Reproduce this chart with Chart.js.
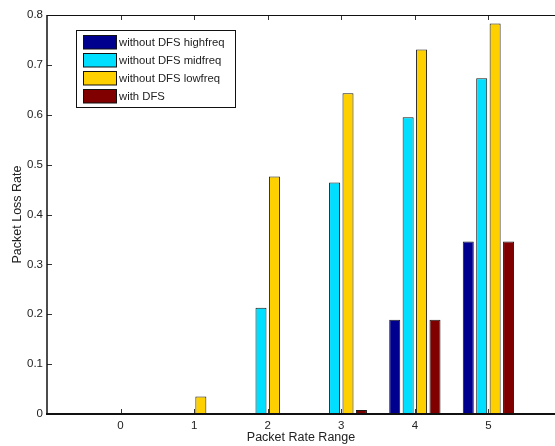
<!DOCTYPE html>
<html>
<head>
<meta charset="utf-8">
<script src="https://cdn.jsdelivr.net/npm/chart.js@4/dist/chart.umd.min.js"></script>
<style>
html,body{margin:0;padding:0;background:#fff;overflow:hidden;}
#wrap{width:555px;height:446px;position:relative;}
</style>
</head>
<body>
<div id="wrap"><canvas id="c" width="555" height="446"></canvas></div>
<script>
// ---- data ----
const categories = [0, 1, 2, 3, 4, 5];
const seriesNames = ['without DFS highfreq', 'without DFS midfreq', 'without DFS lowfreq', 'with DFS'];
const highfreq = [0, 0, 0, 0, 0.189, 0.346];
const midfreq  = [0, 0, 0.213, 0.464, 0.595, 0.673];
const lowfreq  = [0, 0.035, 0.476, 0.643, 0.731, 0.783];
const withDFS  = [0, 0, 0, 0.008, 0.189, 0.346];
const yTicks = [0, 0.1, 0.2, 0.3, 0.4, 0.5, 0.6, 0.7, 0.8];
const xTitle = 'Packet Rate Range';
const yTitle = 'Packet Loss Rate';

const colors = ['#00008f', '#00dfff', '#ffd000', '#800000'];
const seriesValues = [highfreq, midfreq, lowfreq, withDFS];

const FONT = 'Liberation Sans, Arial, Helvetica, sans-serif';
const TXT = '#222';

const datasets = seriesValues.map((vals, i) => ({
  label: seriesNames[i],
  data: categories.map((c, j) => ({x: c, y: vals[j]})),
  backgroundColor: colors[i],
  borderColor: '#1a1a1a',
  borderWidth: 1,
  borderSkipped: 'start',
  categoryPercentage: 0.73,
  barPercentage: 0.82
}));

const framePlugin = {
  id: 'frame',
  afterDatasetsDraw(chart) {
    const {ctx, chartArea: a, scales: {x, y}} = chart;
    ctx.save();
    ctx.strokeStyle = '#333';
    ctx.lineWidth = 1;
    // inward tick marks
    categories.forEach(c => {
      const px = Math.round(x.getPixelForValue(c)) + 0.5;
      ctx.beginPath();
      ctx.moveTo(px, a.top); ctx.lineTo(px, a.top + 5);
      ctx.moveTo(px, a.bottom); ctx.lineTo(px, a.bottom - 5);
      ctx.stroke();
    });
    yTicks.forEach(v => {
      const py = Math.round(y.getPixelForValue(v)) + 0.5;
      ctx.beginPath();
      ctx.moveTo(a.left, py); ctx.lineTo(a.left + 5, py);
      ctx.stroke();
    });
    // frame lines
    ctx.strokeStyle = '#111';
    ctx.lineWidth = 1;
    ctx.beginPath();
    ctx.moveTo(a.left, a.top + 0.5); ctx.lineTo(a.right, a.top + 0.5);
    ctx.stroke();
    ctx.lineWidth = 1.5;
    ctx.beginPath();
    ctx.moveTo(a.left, a.top); ctx.lineTo(a.left, a.bottom);
    ctx.stroke();
    ctx.lineWidth = 2;
    ctx.beginPath();
    ctx.moveTo(a.left - 1, a.bottom); ctx.lineTo(a.right, a.bottom);
    ctx.stroke();

    // legend box
    const bx = 76.5, by = 30.5, bw = 159, bh = 77;
    ctx.fillStyle = '#fff';
    ctx.fillRect(bx, by, bw, bh);
    ctx.strokeStyle = '#111';
    ctx.lineWidth = 1;
    ctx.strokeRect(bx, by, bw, bh);
    ctx.font = '11.3px ' + FONT;
    ctx.textBaseline = 'middle';
    ctx.textAlign = 'left';
    chart.data.datasets.forEach((ds, i) => {
      const sy = 35.5 + i * 18;
      ctx.fillStyle = ds.backgroundColor;
      ctx.fillRect(83.5, sy, 33, 13.5);
      ctx.strokeStyle = '#111';
      ctx.strokeRect(83.5, sy, 33, 13.5);
      ctx.fillStyle = TXT;
      ctx.fillText(ds.label, 119, sy + 7.5);
    });
    ctx.restore();
  }
};

new Chart(document.getElementById('c'), {
  type: 'bar',
  data: {datasets},
  options: {
    responsive: false,
    animation: false,
    devicePixelRatio: 1,
    layout: {padding: {top: 15, right: 0, left: 0, bottom: 0}},
    plugins: {legend: {display: false}, tooltip: {enabled: false}},
    scales: {
      x: {
        type: 'linear',
        min: -1,
        max: 5.905,
        offset: false,
        afterFit: s => { s.height = 32; },
        grid: {display: false, drawTicks: false},
        border: {display: false},
        ticks: {
          stepSize: 1,
          includeBounds: false,
          padding: 5,
          color: TXT,
          font: {family: FONT, size: 11.5},
          callback: v => (categories.includes(v) ? String(v) : '')
        },
        title: {display: true, text: xTitle, color: TXT, font: {family: FONT, size: 12.5}, padding: {top: 0, bottom: 1}}
      },
      y: {
        min: 0,
        max: 0.8,
        afterFit: s => { s.width = 47; },
        grid: {display: false, drawTicks: false},
        border: {display: false},
        afterBuildTicks: s => { s.ticks = yTicks.map(v => ({value: v})); },
        ticks: {
          padding: 4,
          color: TXT,
          font: {family: FONT, size: 11.5},
          callback: v => (v === 0 ? '0' : v.toFixed(1))
        },
        title: {display: true, text: yTitle, color: TXT, font: {family: FONT, size: 12.5}, padding: {top: 10.5, bottom: 0}}
      }
    }
  },
  plugins: [framePlugin]
});
</script>
</body>
</html>
